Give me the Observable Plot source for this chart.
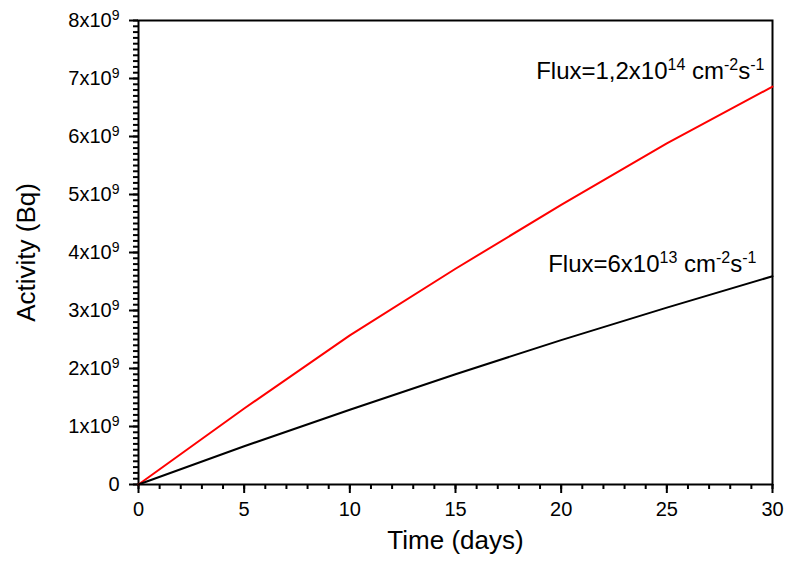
<!DOCTYPE html>
<html>
<head>
<meta charset="utf-8">
<script src="https://cdn.jsdelivr.net/npm/d3@7"></script>
<script src="https://cdn.jsdelivr.net/npm/@observablehq/plot@0.6"></script>
<style>
  html, body { margin: 0; padding: 0; background: #fff; }
  #chart { width: 785px; height: 563px; }
</style>
</head>
<body>
<div id="chart"></div>
<script>
// Irradiation time (days) and resulting activity (Bq) for two neutron fluxes
const days = [0, 5, 10, 15, 20, 25, 30];
const activityHighFlux = [0, 1.31e9, 2.57e9, 3.72e9, 4.82e9, 5.88e9, 6.86e9];
const activityLowFlux = [0, 0.66e9, 1.29e9, 1.90e9, 2.49e9, 3.05e9, 3.59e9];

const seriesNames = ["Flux=1,2x10^{14} cm^{-2}s^{-1}", "Flux=6x10^{13} cm^{-2}s^{-1}"];
const seriesColors = ["#ff0000", "#000000"];

const xTicks = [0, 5, 10, 15, 20, 25, 30];
const xMinorTicks = d3.range(0, 31, 1);
const yTicks = [0, 1e9, 2e9, 3e9, 4e9, 5e9, 6e9, 7e9, 8e9];
const yTickLabels = ["0", "1x10^9", "2x10^9", "3x10^9", "4x10^9", "5x10^9", "6x10^9", "7x10^9", "8x10^9"];
const yMinorTicks = d3.range(0, 81, 1).map(k => k * 1e8);

const rows = [
  ...days.map((d, i) => ({day: d, activity: activityHighFlux[i], series: seriesNames[0]})),
  ...days.map((d, i) => ({day: d, activity: activityLowFlux[i], series: seriesNames[1]}))
];

const font = "'Liberation Sans', Arial, sans-serif";

const chart = Plot.plot({
  width: 785,
  height: 563,
  marginLeft: 138,
  marginRight: 13,
  marginTop: 20,
  marginBottom: 79,
  style: {fontFamily: font, color: "#000", background: "#fff"},
  x: {domain: [0, 30], label: null},
  y: {domain: [0, 8e9], label: null},
  color: {domain: seriesNames, range: seriesColors},
  marks: [
    // minor ticks
    Plot.axisX({ticks: xMinorTicks, tickSize: 5, strokeWidth: 2, tickFormat: () => "", label: null}),
    Plot.axisY({ticks: yMinorTicks, tickSize: 5, strokeWidth: 2, tickFormat: () => "", label: null}),
    // major ticks with labels
    Plot.axisX({ticks: xTicks, tickSize: 9, tickPadding: 8, strokeWidth: 2, fontSize: 20, label: null}),
    Plot.axisY({
      ticks: yTicks, tickSize: 9, tickPadding: 10, strokeWidth: 2, fontSize: 20, label: null,
      tickFormat: d => yTickLabels[yTicks.indexOf(d)]
    }),
    Plot.frame({stroke: "#000", strokeWidth: 2}),
    Plot.line(rows, {x: "day", y: "activity", z: "series", stroke: "series", strokeWidth: 2}),
    // series labels next to the end of each curve
    Plot.text(rows, Plot.selectLast({
      filter: d => d.series === seriesNames[0],
      x: "day", y: "activity", text: "series",
      textAnchor: "end", dx: -8, dy: -15, fontSize: 24, fill: "#000"
    })),
    Plot.text(rows, Plot.selectLast({
      filter: d => d.series === seriesNames[1],
      x: "day", y: "activity", text: "series",
      textAnchor: "end", dx: -16, dy: -12, fontSize: 24, fill: "#000"
    })),
    // axis titles
    Plot.text(["Activity (Bq)"], {frameAnchor: "left", textAnchor: "middle", dx: -112, rotate: -90, fontSize: 26, fill: "#000"}),
    Plot.text(["Time (days)"], {frameAnchor: "bottom", textAnchor: "middle", dy: 64, fontSize: 26, fill: "#000"})
  ]
});

document.getElementById("chart").appendChild(chart);

// Turn "^x" / "^{...}" markup in texts into raised, smaller tspans
function applySuperscripts(root) {
  d3.select(root).selectAll("text").each(function () {
    const raw = this.textContent;
    if (!raw.includes("^")) return;
    const size = parseFloat(getComputedStyle(this).fontSize);
    const supSize = Math.round(size * 0.68);
    const shift = Math.round(size * 0.36);
    const parts = [];
    const re = /\^\{([^}]*)\}|\^(.)/g;
    let last = 0, m;
    while ((m = re.exec(raw)) !== null) {
      if (m.index > last) parts.push({t: raw.slice(last, m.index), sup: false});
      parts.push({t: m[1] !== undefined ? m[1] : m[2], sup: true});
      last = re.lastIndex;
    }
    if (last < raw.length) parts.push({t: raw.slice(last), sup: false});
    const el = d3.select(this);
    el.text(null);
    let raised = false;
    for (const p of parts) {
      const ts = el.append("tspan").text(p.t);
      if (p.sup) {
        ts.attr("font-size", supSize);
        if (!raised) ts.attr("dy", -shift);
        raised = true;
      } else if (raised) {
        ts.attr("dy", shift);
        raised = false;
      }
    }
  });
}
applySuperscripts(chart);
</script>
</body>
</html>
